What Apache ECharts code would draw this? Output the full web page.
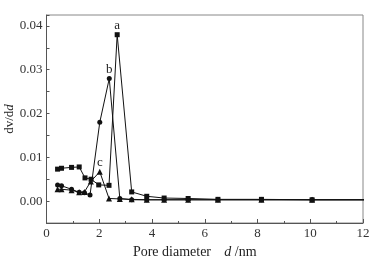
<!DOCTYPE html>
<html>
<head>
<meta charset="utf-8">
<script src="https://cdn.jsdelivr.net/npm/echarts@6/dist/echarts.min.js"></script>
<style>
  html, body { margin: 0; padding: 0; background: #fff; }
  #chart { width: 381px; height: 263px; }
</style>
</head>
<body>
<div id="chart"></div>
<script>
// pore diameter (nm) and dv/dd for the three samples
const xA = [0.42, 0.57, 0.95, 1.24, 1.46, 1.69, 1.98, 2.37, 2.68, 3.23, 3.8, 4.46, 5.37, 6.5, 8.15, 10.07, 12.5];
const yA = [0.0073, 0.0075, 0.0077, 0.0078, 0.0053, 0.0050, 0.0037, 0.0036, 0.038, 0.0021, 0.0011, 0.0007, 0.0006, 0.0004, 0.0004, 0.0003, 0.0003];

const xB = [0.42, 0.57, 0.95, 1.24, 1.44, 1.65, 2.02, 2.38, 2.78, 3.23, 3.8, 4.46, 5.37, 6.5, 8.15, 10.07, 12.5];
const yB = [0.0037, 0.0035, 0.0027, 0.0020, 0.0019, 0.0014, 0.018, 0.028, 0.0006, 0.0003, 0.0003, 0.0003, 0.0003, 0.0003, 0.0003, 0.0003, 0.0003];

const xC = [0.42, 0.57, 0.95, 1.24, 1.44, 1.68, 2.02, 2.37, 2.78, 3.23, 3.8, 4.46, 5.37, 6.5, 8.15, 10.07, 12.5];
const yC = [0.0027, 0.0027, 0.0025, 0.0020, 0.0021, 0.0045, 0.0067, 0.0006, 0.0005, 0.0004, 0.0003, 0.0003, 0.0003, 0.0003, 0.0003, 0.0003, 0.0003];

// which point carries the series letter
const peakA = 8, peakB = 7, peakC = 6;

const FONT = 'Liberation Serif';

function toData(xs, ys, peak, letter) {
  return xs.map((x, i) => {
    const item = { value: [x, ys[i]] };
    if (x > 12) item.symbol = 'none';
    if (i === peak) {
      item.label = {
        show: true, formatter: letter, position: 'top', distance: 0,
        fontFamily: FONT, fontSize: 13, color: '#222'
      };
    }
    return item;
  });
}

const chart = echarts.init(document.getElementById('chart'));

const line = (name, symbol, size, data) => ({
  name, type: 'line', symbol, symbolSize: size, data,
  clip: true,
  lineStyle: { color: '#111', width: 1 },
  itemStyle: { color: '#111' },
  label: { show: false },
  z: 3
});

chart.setOption({
  animation: false,
  backgroundColor: '#fff',
  grid: {
    left: 46.5, right: 18, top: 15, bottom: 40,
    outerBoundsMode: 'none', containLabel: false,
    show: true, borderColor: '#888', borderWidth: 1
  },
  xAxis: {
    type: 'value', min: 0, max: 12, interval: 2,
    name: '{n|Pore diameter}    {i|d}{n| /nm}',
    nameLocation: 'middle', nameGap: 22, nameMoveOverlap: false,
    nameTextStyle: {
      padding: [0, 20, 0, 0],
      rich: {
        n: { fontFamily: FONT, fontSize: 14, color: '#222' },
        i: { fontFamily: FONT, fontSize: 14, color: '#222', fontStyle: 'italic' }
      }
    },
    axisLine: { onZero: false, lineStyle: { color: '#555', width: 1 } },
    axisTick: { inside: true, length: 4, lineStyle: { color: '#555' } },
    minorTick: { show: true, splitNumber: 2, length: 2, lineStyle: { color: '#555' } },
    axisLabel: { fontFamily: FONT, fontSize: 13, color: '#333', margin: 4 },
    splitLine: { show: false }
  },
  yAxis: {
    type: 'value', min: -0.005, max: 0.0425, interval: 0.005,
    name: '{n|dv/d}{i|d}',
    nameLocation: 'middle', nameGap: 30, nameMoveOverlap: false,
    nameTextStyle: {
      rich: {
        n: { fontFamily: FONT, fontSize: 13, color: '#222' },
        i: { fontFamily: FONT, fontSize: 13, color: '#222', fontStyle: 'italic' }
      }
    },
    axisLine: { onZero: false, lineStyle: { color: '#555', width: 1 } },
    axisTick: { inside: true, length: 3, lineStyle: { color: '#555' } },
    axisLabel: {
      fontFamily: FONT, fontSize: 13, color: '#333', margin: 4,
      formatter: v => (Math.round(v * 200) % 2 === 0 ? v.toFixed(2) : '')
    },
    splitLine: { show: false }
  },
  series: [
    line('a', 'rect', 5, toData(xA, yA, peakA, 'a')),
    line('b', 'circle', 5, toData(xB, yB, peakB, 'b')),
    line('c', 'triangle', 6, toData(xC, yC, peakC, 'c'))
  ]
});
</script>
</body>
</html>
